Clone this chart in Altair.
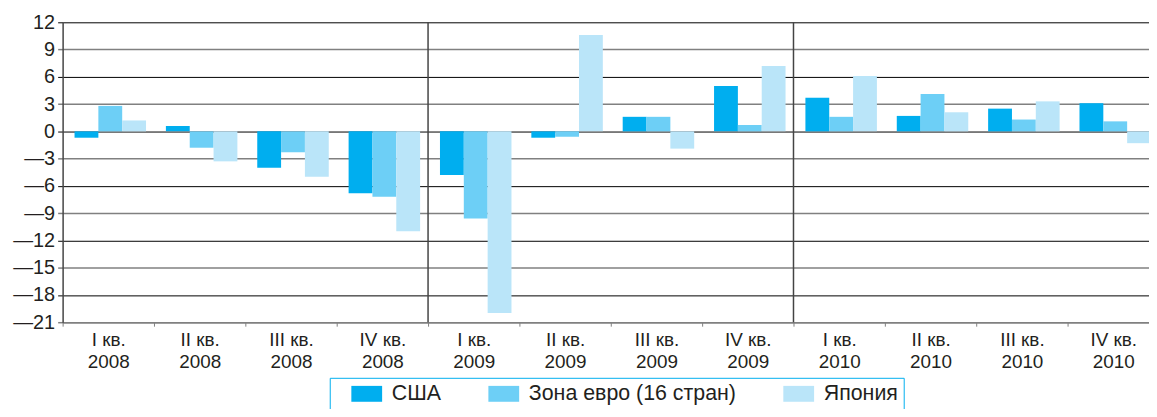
import altair as alt
import pandas as pd

quarters = ["I кв.", "II кв.", "III кв.", "IV кв."]
years = ["2008", "2009", "2010"]
series = ["США", "Зона евро (16 стран)", "Япония"]
usa = [-0.7, 0.6, -4.0, -6.8, -4.8, -0.7, 1.6, 5.0, 3.7, 1.7, 2.5, 3.1]
euro = [2.8, -1.8, -2.3, -7.2, -9.6, -0.6, 1.6, 0.7, 1.6, 4.1, 1.3, 1.1]
japan = [1.2, -3.3, -5.0, -11.0, -20.0, 10.6, -1.9, 7.2, 6.1, 2.1, 3.3, -1.3]
y_ticks = list(range(-21, 13, 3))
colors = ["#00AEEF", "#6DCFF6", "#BAE5F9"]

periods = [f"{q}|{y}" for y in years for q in quarters]
rows = []
for i, p in enumerate(periods):
    for s, vals in zip(series, [usa, euro, japan]):
        rows.append({"period": p, "series": s, "value": vals[i]})
df = pd.DataFrame(rows)

dividers = pd.DataFrame({"period": [periods[3], periods[7]]})

FONT = "Liberation Sans"
TXT = "#231F20"

x_scale = alt.Scale(domain=periods, paddingInner=0, paddingOuter=0)
grid_test = "datum.value % 6 === 0"

bars = alt.Chart(df).mark_bar().encode(
    x=alt.X(
        "period:N",
        scale=x_scale,
        sort=periods,
        axis=alt.Axis(
            title=None,
            labelExpr="split(datum.label, '|')",
            labelAngle=0,
            labelFont=FONT,
            labelFontSize=19,
            labelColor=TXT,
            labelLineHeight=23,
            labelPadding=4,
            tickBand="extent",
            tickColor="#808080",
            tickSize=4,
            domainColor="#808080",
            domainWidth=1.5,
            grid=False,
        ),
    ),
    xOffset=alt.XOffset(
        "series:N",
        sort=series,
        scale=alt.Scale(domain=series, paddingInner=0, paddingOuter=0.4167, align=0.6),
    ),
    y=alt.Y(
        "value:Q",
        scale=alt.Scale(domain=[-21, 12], nice=False, zero=False),
        axis=alt.Axis(
            title=None,
            values=y_ticks,
            labelExpr="datum.value < 0 ? '—' + abs(datum.value) : datum.label",
            labelFont=FONT,
            labelFontSize=20,
            labelColor=TXT,
            labelPadding=3,
            tickSize=5,
            tickColor={"condition": {"test": grid_test, "value": "#000000"}, "value": "#808080"},
            tickWidth={"condition": {"test": grid_test, "value": 1}, "value": 1.5},
            grid=True,
            gridColor={"condition": {"test": grid_test, "value": "#000000"}, "value": "#808080"},
            gridWidth={"condition": {"test": grid_test, "value": 1}, "value": 1.5},
            gridOpacity=1,
            domainColor="#444444",
            domainWidth=1.5,
        ),
    ),
    color=alt.Color(
        "series:N",
        sort=series,
        scale=alt.Scale(domain=series, range=colors),
        legend=alt.Legend(
            title=None,
            orient="none",
            legendX=269,
            legendY=358,
            direction="horizontal",
            strokeColor="#00AEEF",
            fillColor="#FFFFFF",
            padding=5,
            columnPadding=30,
            labelOffset=36,
            labelLimit=400,
            labelFont=FONT,
            labelFontSize=21.5,
            labelColor=TXT,
            labelExpr="datum.label == 'Япония' ? datum.label + '\u00a0\u00a0\u00a0' : datum.label",
            symbolType="M0.75,-1L4.625,-1L4.625,1L0.75,1Z",
            symbolSize=256,
            symbolStrokeWidth=0,
            symbolOpacity=1,
        ),
    ),
)

rules = alt.Chart(dividers).mark_rule(color="#444444", strokeWidth=1.5).encode(
    x=alt.X("period:N", bandPosition=1, scale=x_scale, sort=periods)
)

chart = (
    alt.layer(bars, rules)
    .properties(
        width=1104,
        height=302,
        autosize=alt.AutoSizeParams(type="none"),
        padding={"left": 55, "top": 13, "right": -10, "bottom": 86},
    )
    .configure_view(stroke=None)
)

chart.save("out.html", embed_options={"renderer": "svg", "actions": False})
